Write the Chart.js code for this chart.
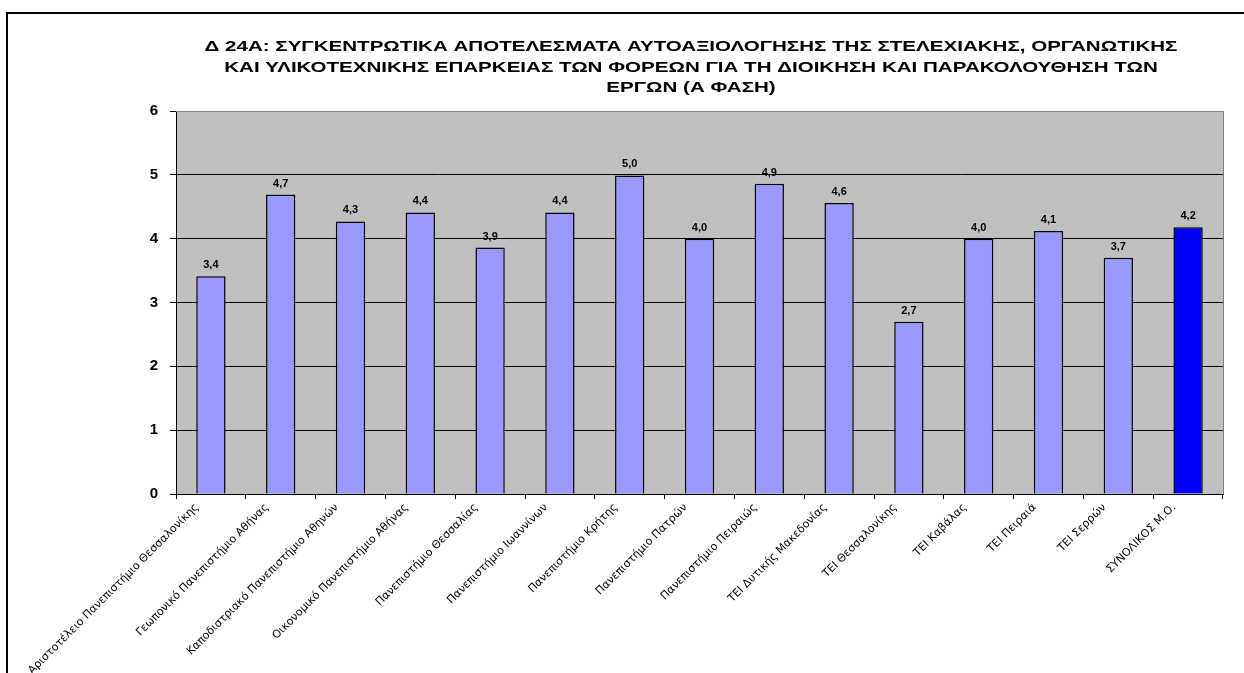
<!DOCTYPE html>
<html>
<head>
<meta charset="utf-8">
<script src="https://cdn.jsdelivr.net/npm/chart.js@4/dist/chart.umd.min.js"></script>
<style>
  html, body { margin: 0; padding: 0; background: #fff; overflow: hidden; }
  #frame { position: absolute; left: 6px; top: 12px; width: 1400px; height: 800px; border: 2px solid #000; }
  #wrap { position: absolute; left: 0; top: 0; width: 1244px; height: 673px; }
</style>
</head>
<body>
<div id="frame"></div>
<div id="wrap"><canvas id="myChart"></canvas></div>
<script>
const titleLines = [
  'Δ 24Α: ΣΥΓΚΕΝΤΡΩΤΙΚΑ ΑΠΟΤΕΛΕΣΜΑΤΑ ΑΥΤΟΑΞΙΟΛΟΓΗΣΗΣ ΤΗΣ ΣΤΕΛΕΧΙΑΚΗΣ, ΟΡΓΑΝΩΤΙΚΗΣ',
  'ΚΑΙ ΥΛΙΚΟΤΕΧΝΙΚΗΣ ΕΠΑΡΚΕΙΑΣ ΤΩΝ ΦΟΡΕΩΝ ΓΙΑ ΤΗ ΔΙΟΙΚΗΣΗ ΚΑΙ ΠΑΡΑΚΟΛΟΥΘΗΣΗ ΤΩΝ',
  'ΕΡΓΩΝ (Α ΦΑΣΗ)'
];

const categories = [
  'Αριστοτέλειο Πανεπιστήμιο Θεσσαλονίκης',
  'Γεωπονικό Πανεπιστήμιο Αθήνας',
  'Καποδιστριακό Πανεπιστήμιο Αθηνών',
  'Οικονομικό Πανεπιστήμιο Αθήνας',
  'Πανεπιστήμιο Θεσσαλίας',
  'Πανεπιστήμιο Ιωαννίνων',
  'Πανεπιστήμιο Κρήτης',
  'Πανεπιστήμιο Πατρών',
  'Πανεπιστήμιο Πειραιώς',
  'ΤΕΙ Δυτικής Μακεδονίας',
  'ΤΕΙ Θεσσαλονίκης',
  'ΤΕΙ Καβάλας',
  'ΤΕΙ Πειραιά',
  'ΤΕΙ Σερρών',
  'ΣΥΝΟΛΙΚΟΣ Μ.Ο.'
];

const values = [3.41, 4.69, 4.27, 4.41, 3.86, 4.41, 4.99, 4.0, 4.86, 4.56, 2.7, 4.0, 4.12, 3.7, 4.18];

const yTicks = [0, 1, 2, 3, 4, 5, 6];

const barColors = values.map((v, i) => i === values.length - 1 ? '#0000FF' : '#9999FF');

// gray plot background, right border, title and value labels
const excelLook = {
  id: 'excelLook',
  beforeDraw(chart) {
    const { ctx, chartArea: a } = chart;
    ctx.save();
    ctx.fillStyle = '#C0C0C0';
    ctx.fillRect(a.left, a.top, a.right - a.left, a.bottom - a.top);
    ctx.restore();
  },
  afterDraw(chart) {
    const { ctx, chartArea: a } = chart;
    ctx.save();
    ctx.strokeStyle = '#808080';
    ctx.lineWidth = 1;
    ctx.beginPath();
    ctx.moveTo(a.right + 0.5, a.top);
    ctx.lineTo(a.right + 0.5, a.bottom);
    ctx.moveTo(a.left, a.top + 0.5);
    ctx.lineTo(a.right, a.top + 0.5);
    ctx.stroke();

    ctx.fillStyle = '#000';
    ctx.textAlign = 'center';
    ctx.textBaseline = 'middle';
    ctx.font = 'bold 15px "Liberation Sans", Arial, sans-serif';
    titleLines.forEach((t, i) => {
      ctx.save();
      ctx.translate(691, 47 + i * 20.5);
      ctx.scale(1.37, 1);
      ctx.fillText(t, 0, 0);
      ctx.restore();
    });

    ctx.font = 'bold 11px "Liberation Sans", Arial, sans-serif';
    ctx.textBaseline = 'alphabetic';
    chart.getDatasetMeta(0).data.forEach((bar, i) => {
      ctx.fillText(values[i].toFixed(1).replace('.', ','), bar.x, bar.y - 8);
    });
    ctx.restore();
  }
};

new Chart(document.getElementById('myChart').getContext('2d'), {
  type: 'bar',
  data: {
    labels: categories,
    datasets: [{
      data: values,
      backgroundColor: barColors,
      borderColor: '#000',
      borderWidth: 1.5,
      barPercentage: 0.42,
      categoryPercentage: 1
    }]
  },
  options: {
    responsive: true,
    maintainAspectRatio: false,
    animation: false,
    layout: { padding: { top: 111, right: 21, left: 0, bottom: 0 } },
    plugins: {
      legend: { display: false },
      tooltip: { enabled: false }
    },
    scales: {
      x: {
        offset: true,
        afterFit(scale) { scale.height = 179; },
        grid: { offset: true, drawOnChartArea: false, drawTicks: true, tickLength: 5, color: '#000' },
        border: { color: '#000', width: 1 },
        ticks: {
          autoSkip: false,
          minRotation: 45,
          maxRotation: 45,
          padding: 2,
          labelOffset: -14,
          color: '#000',
          font: { family: '"DejaVu Sans", Verdana, sans-serif', size: 11 }
        }
      },
      y: {
        min: 0,
        max: 6,
        afterFit(scale) { scale.width = 176; },
        afterBuildTicks(scale) { scale.ticks = yTicks.map(v => ({ value: v })); },
        grid: {
          color: ctx => ctx.tick && ctx.tick.value === 6 ? '#808080' : '#000',
          tickColor: '#000',
          tickLength: 6,
          lineWidth: 1
        },
        border: { color: '#000', width: 1 },
        ticks: {
          padding: 12,
          color: '#000',
          font: { family: '"Liberation Sans", Arial, sans-serif', size: 15, weight: 'bold' }
        }
      }
    }
  },
  plugins: [excelLook]
});
</script>
</body>
</html>
